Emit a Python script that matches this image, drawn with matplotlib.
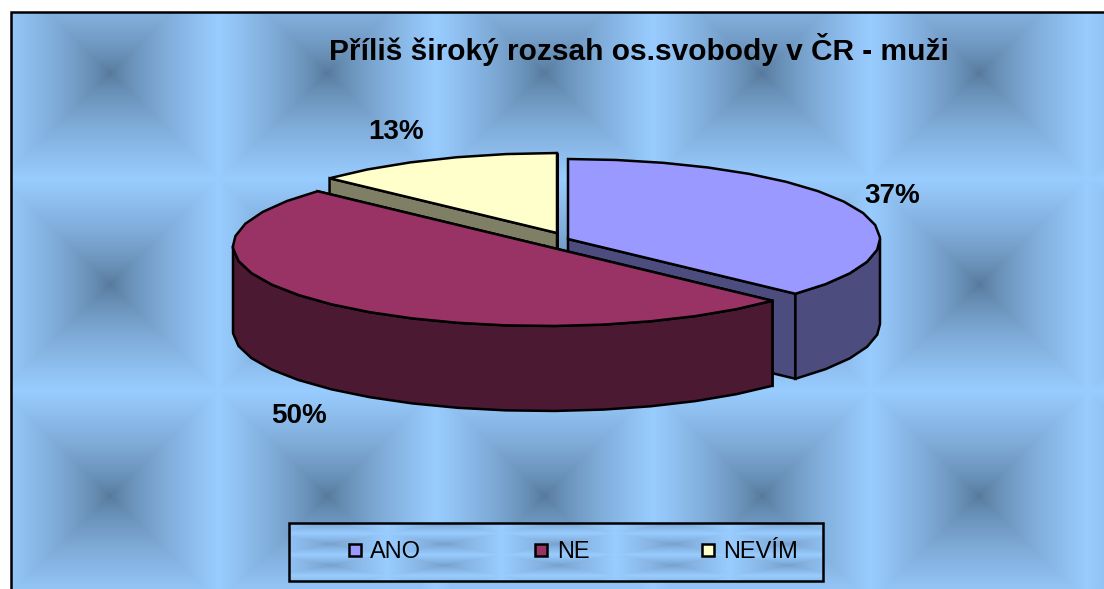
import numpy as np
import matplotlib
matplotlib.use('Agg')
import matplotlib.pyplot as plt
from matplotlib.patches import Polygon, Rectangle

# data
kategorie = ['ANO', 'NE', 'NEVÍM']
hodnoty = [37, 50, 13]
titulek = 'Příliš široký rozsah os.svobody v ČR - muži'

barvy_vrch = ['#9999FF', '#993366', '#FFFFCC']
barvy_bok = ['#4C4C7F', '#4C1933', '#7F7F66']
stredy = [(568, 239), (545, 246), (557, 233)]   # apex of each pulled-out slice
popisky_xy = [(892, 203), (299, 423), (396, 139)]
legenda_x = [354.5, 541, 707.5]
legenda_text_x = [370, 557, 723]

A, B, HLOUBKA = 312, 80, 85
W, H = 1104, 589
KROK = np.radians(9)   # the original outline is a coarse polygon

plt.rcParams['font.family'] = ['Liberation Sans', 'DejaVu Sans']

fig = plt.figure(figsize=(W / 100, H / 100), dpi=100)
ax = fig.add_axes([0, 0, 1, 1])
ax.set_xlim(0, W)
ax.set_ylim(H, 0)
ax.axis('off')


def pozadi(x0, x1, y0, y1, px, py, tx, ty, tmava, svetla, exp):
    # tiled square gradient, dark in the middle of each tile
    xx, yy = np.meshgrid(np.arange(x0, x1) + 0.5, np.arange(y0, y1) + 0.5)
    dx = np.abs(((xx - px + tx / 2) % tx) - tx / 2) / (tx / 2)
    dy = np.abs(((yy - py + ty / 2) % ty) - ty / 2) / (ty / 2)
    t = np.maximum(dx, dy) ** exp
    tmava = np.array(matplotlib.colors.to_rgb(tmava))
    svetla = np.array(matplotlib.colors.to_rgb(svetla))
    img = tmava + (svetla - tmava) * t[..., None]
    ax.imshow(img, extent=(x0, x1, y1, y0), aspect='auto', zorder=0, interpolation='nearest')


pozadi(11, W, 12, H, 110, 73, 217.3, 211.5, '#557799', '#99CCFF', 0.7)
ax.plot([10.5, 10.5, W], [H, 11.5, 11.5], color='black', lw=1.8, zorder=1, solid_joinstyle='miter')
ax.set_xlim(0, W)
ax.set_ylim(H, 0)


def bod(c, t):
    return c[0] + A * np.sin(t), c[1] - B * np.cos(t)


uhly = np.radians(np.cumsum([0] + hodnoty) * 3.6)

# back to front: NEVÍM, ANO, NE
z = 2
for i in [2, 0, 1]:
    c = stredy[i]
    t0, t1 = uhly[i], uhly[i + 1]
    t = np.linspace(t0, t1, int(round((t1 - t0) / KROK)) + 1)
    for zlom in (np.pi / 2, 3 * np.pi / 2):
        if t0 < zlom < t1:
            t = np.unique(np.r_[t, zlom])
    ex, ey = bod(c, t)

    # cut faces
    for tk in (t0, t1):
        kx, ky = bod(c, tk)
        ax.add_patch(Polygon([c, (kx, ky), (kx, ky + HLOUBKA), (c[0], c[1] + HLOUBKA)],
                             closed=True, fc=barvy_bok[i], ec='black', lw=1.8, zorder=z))
        z += 1

    # outer wall, only the part facing the viewer
    m = (t >= np.pi / 2) & (t <= 3 * np.pi / 2)
    if m.any():
        sx, sy = ex[m], ey[m]
        ax.add_patch(Polygon(np.r_[np.c_[sx, sy], np.c_[sx, sy + HLOUBKA][::-1]],
                             closed=True, fc=barvy_bok[i], ec='black', lw=1.8, zorder=z))
        z += 1

    # top
    ax.add_patch(Polygon(np.r_[[c], np.c_[ex, ey]], closed=True, fc=barvy_vrch[i],
                         ec='black', lw=1.8, joinstyle='miter', zorder=z))
    z += 1

ax.text(639, 60, titulek, fontsize=21.5, fontweight='bold', ha='center', va='baseline', zorder=50)

for i in range(len(hodnoty)):
    ax.text(popisky_xy[i][0], popisky_xy[i][1], '%d%%' % hodnoty[i], fontsize=20,
            fontweight='bold', ha='center', va='baseline', zorder=50)

# legend box
pozadi(289, 822, 523, 581, 330, 544, 114.3, 21.3, '#769FCB', '#99CCFF', 0.8)
ax.set_xlim(0, W)
ax.set_ylim(H, 0)
ax.add_patch(Rectangle((288.5, 522.5), 534, 58, fc='none', ec='black', lw=1.8, zorder=60))
for i in range(len(kategorie)):
    ax.add_patch(Rectangle((legenda_x[i] - 6, 544), 12, 12, fc=barvy_vrch[i], ec='black', lw=1.8, zorder=61))
    ax.text(legenda_text_x[i], 558, kategorie[i], fontsize=17, ha='left', va='baseline', zorder=61)

fig.savefig('out.png', dpi=100)
